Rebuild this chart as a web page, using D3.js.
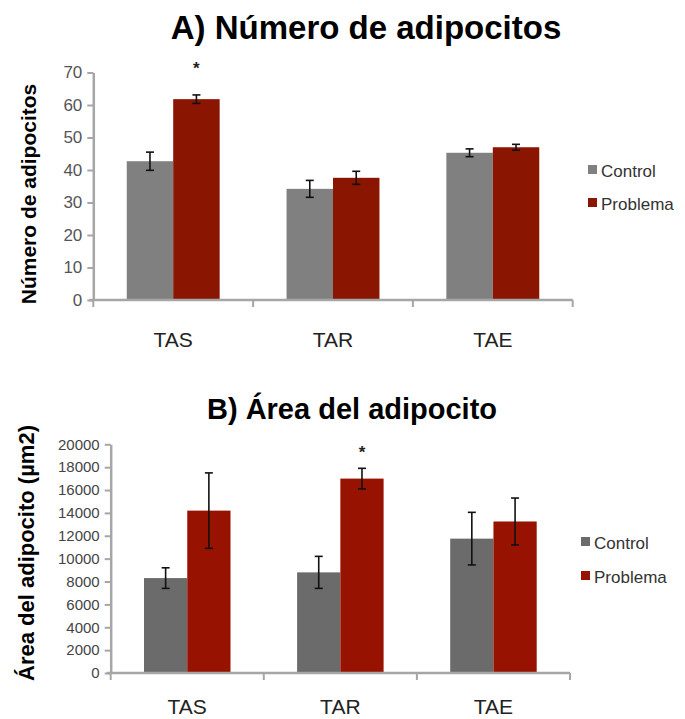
<!DOCTYPE html>
<html><head><meta charset="utf-8">
<script src="https://cdn.jsdelivr.net/npm/d3@7"></script>
<style>
html,body{margin:0;padding:0;background:#fff;}
svg{display:block;}
</style></head>
<body>
<svg id="chart" width="685" height="719"></svg>
<script>
const categories = ["TAS", "TAR", "TAE"];
const series = ["Control", "Problema"];

// Chart A: Número de adipocitos
const countControl = [42.7, 34.2, 45.3];
const countControlErr = [2.8, 2.6, 1.2];
const countProblema = [61.8, 37.6, 47.0];
const countProblemaErr = [1.3, 2.0, 0.9];
const countTicks = [0, 10, 20, 30, 40, 50, 60, 70];
const countSignif = ["TAS"];

// Chart B: Área del adipocito (µm2)
const areaControl = [8300, 8800, 11750];
const areaControlErr = [900, 1400, 2300];
const areaProblema = [14200, 17000, 13250];
const areaProblemaErr = [3300, 900, 2050];
const areaTicks = [0, 2000, 4000, 6000, 8000, 10000, 12000, 14000, 16000, 18000, 20000];
const areaSignif = ["TAR"];

const svg = d3.select("#chart");
const AXIS = "#a6a6a6";

function drawChart(cfg) {
  const g = svg.append("g");
  const y = d3.scaleLinear().domain([0, cfg.ticks[cfg.ticks.length - 1]]).range([cfg.y0, cfg.y1]);
  const x = d3.scaleBand().domain(categories).range([cfg.x0, cfg.x1]);
  const xs = d3.scaleBand().domain(series).range([0, x.bandwidth()]).paddingOuter(cfg.pad);
  const rows = categories.map((c, i) => ({
    cat: c,
    vals: [
      {s: "Control", v: cfg.control[i], e: cfg.controlErr[i]},
      {s: "Problema", v: cfg.problema[i], e: cfg.problemaErr[i]}
    ]
  }));

  // bars
  const grp = g.selectAll("g.grp").data(rows).join("g")
    .attr("transform", d => `translate(${x(d.cat)},0)`);
  grp.selectAll("rect").data(d => d.vals).join("rect")
    .attr("x", d => xs(d.s))
    .attr("width", xs.bandwidth())
    .attr("y", d => y(d.v))
    .attr("height", d => y(0) - y(d.v))
    .attr("fill", d => d.s === "Control" ? cfg.c1 : cfg.c2);

  // error bars
  const eb = grp.selectAll("g.eb").data(d => d.vals).join("g")
    .attr("stroke", "#111").attr("stroke-width", 1.6);
  eb.append("line")
    .attr("x1", d => xs(d.s) + xs.bandwidth() / 2)
    .attr("x2", d => xs(d.s) + xs.bandwidth() / 2)
    .attr("y1", d => y(d.v + d.e)).attr("y2", d => y(d.v - d.e));
  [1, -1].forEach(sg => {
    eb.append("line")
      .attr("x1", d => xs(d.s) + xs.bandwidth() / 2 - 4)
      .attr("x2", d => xs(d.s) + xs.bandwidth() / 2 + 4)
      .attr("y1", d => y(d.v + sg * d.e)).attr("y2", d => y(d.v + sg * d.e));
  });

  // significance asterisks
  rows.filter(r => cfg.signif.includes(r.cat)).forEach(r => {
    const p = r.vals[1];
    g.append("text")
      .attr("x", x(r.cat) + xs(p.s) + xs.bandwidth() / 2)
      .attr("y", y(p.v + p.e) - cfg.starGap)
      .attr("text-anchor", "middle")
      .attr("font-family", "Liberation Sans, Arial, sans-serif")
      .attr("font-size", 17).attr("font-weight", "bold").attr("fill", "#222")
      .text("*");
  });

  // y axis
  const ya = g.append("g").attr("transform", `translate(${cfg.x0},0)`)
    .call(d3.axisLeft(y).tickValues(cfg.ticks).tickFormat(d3.format("d"))
      .tickSize(6).tickSizeOuter(0).tickPadding(cfg.tickPad));
  ya.select(".domain").attr("stroke", AXIS).attr("stroke-width", 2.5);
  ya.selectAll(".tick line").attr("stroke", AXIS).attr("stroke-width", 2);
  ya.selectAll(".tick text").attr("font-family", cfg.tickFont).attr("font-size", cfg.tickSize)
    .attr("fill", cfg.tickColor);

  // x axis line and boundary ticks
  g.append("line").attr("x1", cfg.x0 - 4).attr("x2", cfg.x1)
    .attr("y1", cfg.y0).attr("y2", cfg.y0)
    .attr("stroke", AXIS).attr("stroke-width", 2.5);
  const bounds = categories.map(c => x(c)).concat([cfg.x1]);
  g.selectAll("line.xt").data(bounds).join("line")
    .attr("x1", d => d).attr("x2", d => d)
    .attr("y1", cfg.y0).attr("y2", cfg.y0 + 7)
    .attr("stroke", AXIS).attr("stroke-width", 2);
  g.selectAll("text.xl").data(categories).join("text")
    .attr("x", d => x(d) + x.bandwidth() / 2)
    .attr("y", cfg.catY)
    .attr("text-anchor", "middle")
    .attr("font-family", cfg.catFont).attr("font-size", cfg.catSize).attr("fill", "#222")
    .text(d => d);

  // title
  g.append("text").attr("x", cfg.titleX).attr("y", cfg.titleY)
    .attr("text-anchor", "middle")
    .attr("font-family", "Liberation Sans, Arial, sans-serif")
    .attr("font-weight", "bold").attr("font-size", cfg.titleSize).attr("fill", "#000")
    .text(cfg.title);

  // y title
  g.append("text")
    .attr("transform", `translate(${cfg.ytX},${cfg.ytY}) rotate(-90)`)
    .attr("text-anchor", "middle")
    .attr("font-family", "Liberation Sans, Arial, sans-serif")
    .attr("font-weight", "bold").attr("font-size", cfg.ytSize).attr("fill", "#000")
    .text(cfg.ytitle);

  // legend
  series.forEach((s, i) => {
    const ly = cfg.legY + i * cfg.legGap;
    g.append("rect").attr("x", cfg.legX).attr("y", ly - 12).attr("width", 9).attr("height", 9)
      .attr("fill", i === 0 ? cfg.c1 : cfg.c2);
    g.append("text").attr("x", cfg.legX + 13).attr("y", ly)
      .attr("font-family", "Liberation Sans, Arial, sans-serif")
      .attr("font-size", cfg.legSize).attr("fill", "#333")
      .text(s);
  });
}

drawChart({
  control: countControl, controlErr: countControlErr,
  problema: countProblema, problemaErr: countProblemaErr,
  ticks: countTicks, signif: countSignif,
  x0: 93.3, x1: 572.7, y0: 300, y1: 72.5, pad: 0.72,
  c1: "#808080", c2: "#8a1500",
  starGap: 21,
  tickFont: "Liberation Sans Narrow, Liberation Sans, sans-serif", tickSize: 17, tickPad: 5, tickColor: "#555",
  catY: 347, catFont: "Liberation Sans Narrow, Liberation Sans, sans-serif", catSize: 21,
  title: "A) Número de adipocitos", titleX: 366, titleY: 39, titleSize: 33,
  ytitle: "Número de adipocitos", ytX: 36, ytY: 194, ytSize: 21,
  legX: 588, legY: 177, legGap: 33, legSize: 17
});

drawChart({
  control: areaControl, controlErr: areaControlErr,
  problema: areaProblema, problemaErr: areaProblemaErr,
  ticks: areaTicks, signif: areaSignif,
  x0: 110.7, x1: 570, y0: 673, y1: 444.3, pad: 0.77,
  c1: "#6b6b6b", c2: "#981200",
  starGap: 10,
  tickFont: "Liberation Sans, Arial, sans-serif", tickSize: 15, tickPad: 5, tickColor: "#444",
  catY: 714, catFont: "Liberation Sans, Arial, sans-serif", catSize: 21,
  title: "B) Área del adipocito", titleX: 352, titleY: 419, titleSize: 29,
  ytitle: "Área del adipocito  (µm2)", ytX: 34, ytY: 553, ytSize: 22,
  legX: 581, legY: 549, legGap: 34, legSize: 17
});
</script>
</body></html>
